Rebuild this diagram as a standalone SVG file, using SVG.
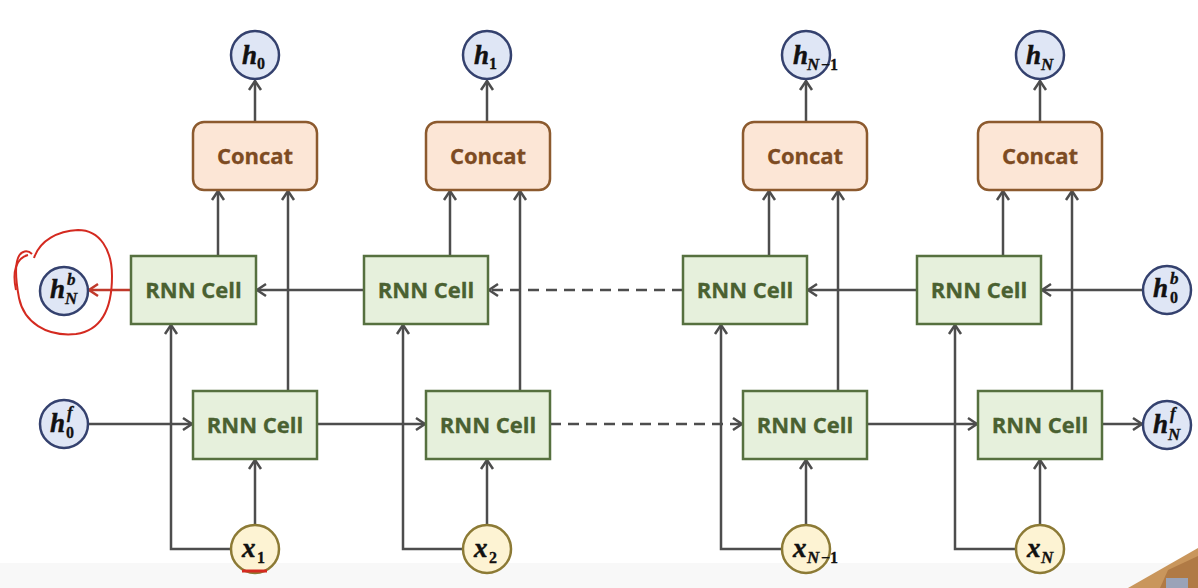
<svg xmlns="http://www.w3.org/2000/svg" width="1198" height="588" viewBox="0 0 1198 588">
<defs>
<marker id="arr" markerUnits="userSpaceOnUse" markerWidth="14" markerHeight="16" viewBox="-10 -8 12 16" refX="0" refY="0" orient="auto">
<path d="M-9,-6 L0,0 L-9,6" fill="none" stroke="#4d4d4d" stroke-width="2.5"/>
</marker>
<marker id="arrR" markerUnits="userSpaceOnUse" markerWidth="14" markerHeight="16" viewBox="-10 -8 12 16" refX="0" refY="0" orient="auto">
<path d="M-9,-6 L0,0 L-9,6" fill="none" stroke="#c0392b" stroke-width="2.5"/>
</marker>
</defs>
<style>
.cell{fill:#e6f0dc;stroke:#56703f;stroke-width:2.5}
.cat{fill:#fce6d6;stroke:#8c5a2e;stroke-width:2.5}
.ct{font-family:"Open Sans","Noto Sans",sans-serif;font-weight:bold;font-size:22px;fill:#4a6131;stroke:#4a6131;stroke-width:0.3;text-anchor:middle}
.catt{font-family:"Open Sans","Noto Sans",sans-serif;font-weight:bold;font-size:22px;fill:#7d4b22;stroke:#7d4b22;stroke-width:0.3;text-anchor:middle}
.hc{fill:#dfe6f5;stroke:#34416e;stroke-width:2.5}
.xc{fill:#fdf3d3;stroke:#8c7a35;stroke-width:2.5}
.m{font-family:"Liberation Serif","DejaVu Serif",serif;font-weight:bold;font-style:italic;font-size:27px;fill:#111;stroke:#111;stroke-width:0.5}
.s{font-family:"Liberation Serif","DejaVu Serif",serif;font-weight:bold;font-size:16px;fill:#111;stroke:#111;stroke-width:0.3}
.si{font-family:"Liberation Serif","DejaVu Serif",serif;font-weight:bold;font-style:italic;font-size:17px;fill:#111;stroke:#111;stroke-width:0.3}
.ln{fill:none;stroke:#4d4d4d;stroke-width:2.5}
.a{marker-end:url(#arr)}
.d{stroke-dasharray:11 7}
</style>
<rect x="0" y="0" width="1198" height="588" fill="#ffffff"/>
<rect x="0" y="563" width="1198" height="25" fill="#f8f8f8"/>
<polygon points="1128,588 1198,548 1198,588" fill="#c9965c"/>
<polygon points="1160,588 1168,570 1198,556 1198,588" fill="#b07a45"/>
<rect x="1166" y="578" width="22" height="10" fill="#9aa3b8"/>

<g id="connectors">
<line class="ln a" x1="255" y1="122" x2="255" y2="81"/>
<line class="ln a" x1="487" y1="122" x2="487" y2="81"/>
<line class="ln a" x1="806" y1="122" x2="806" y2="81"/>
<line class="ln a" x1="1040" y1="122" x2="1040" y2="81"/>

<line class="ln a" x1="218" y1="256" x2="218" y2="191"/>
<line class="ln a" x1="450" y1="256" x2="450" y2="191"/>
<line class="ln a" x1="769" y1="256" x2="769" y2="191"/>
<line class="ln a" x1="1003" y1="256" x2="1003" y2="191"/>

<line class="ln a" x1="288" y1="391" x2="288" y2="191"/>
<line class="ln a" x1="520" y1="391" x2="520" y2="191"/>
<line class="ln a" x1="838" y1="391" x2="838" y2="191"/>
<line class="ln a" x1="1072" y1="391" x2="1072" y2="191"/>

<line class="ln a" x1="255" y1="524" x2="255" y2="460"/>
<line class="ln a" x1="487" y1="524" x2="487" y2="460"/>
<line class="ln a" x1="806" y1="524" x2="806" y2="460"/>
<line class="ln a" x1="1040" y1="524" x2="1040" y2="460"/>

<polyline class="ln a" points="230,549 171,549 171,325"/>
<polyline class="ln a" points="462,549 403,549 403,325"/>
<polyline class="ln a" points="781,549 721,549 721,325"/>
<polyline class="ln a" points="1015,549 955,549 955,325"/>

<line class="ln a" x1="88" y1="424" x2="192" y2="424"/>
<line class="ln a" x1="317" y1="424" x2="425" y2="424"/>
<line class="ln a d" x1="550" y1="424" x2="742" y2="424"/>
<line class="ln a" x1="867" y1="424" x2="977" y2="424"/>
<line class="ln a" x1="1102" y1="424" x2="1142" y2="424"/>

<line class="ln a" x1="1143" y1="290" x2="1042" y2="290"/>
<line class="ln a" x1="917" y1="290" x2="808" y2="290"/>
<line class="ln a d" x1="683" y1="290" x2="489" y2="290"/>
<line class="ln a" x1="364" y1="290" x2="257" y2="290"/>
<line x1="131" y1="290" x2="89" y2="290" fill="none" stroke="#c0392b" stroke-width="2.5" marker-end="url(#arrR)"/>
</g>

<g id="concat1"><rect class="cat" x="193" y="122" width="124" height="68" rx="11"/><text class="catt" x="255" y="164">Concat</text></g>
<g id="concat2"><rect class="cat" x="426" y="122" width="124" height="68" rx="11"/><text class="catt" x="488" y="164">Concat</text></g>
<g id="concat3"><rect class="cat" x="743" y="122" width="124" height="68" rx="11"/><text class="catt" x="805" y="164">Concat</text></g>
<g id="concat4"><rect class="cat" x="978" y="122" width="124" height="68" rx="11"/><text class="catt" x="1040" y="164">Concat</text></g>

<g id="bcell1"><rect class="cell" x="131" y="256" width="125" height="68"/><text class="ct" x="193.5" y="298">RNN Cell</text></g>
<g id="bcell2"><rect class="cell" x="364" y="256" width="124" height="68"/><text class="ct" x="426" y="298">RNN Cell</text></g>
<g id="bcell3"><rect class="cell" x="683" y="256" width="124" height="68"/><text class="ct" x="745" y="298">RNN Cell</text></g>
<g id="bcell4"><rect class="cell" x="917" y="256" width="124" height="68"/><text class="ct" x="979" y="298">RNN Cell</text></g>

<g id="fcell1"><rect class="cell" x="193" y="391" width="124" height="68"/><text class="ct" x="255" y="433">RNN Cell</text></g>
<g id="fcell2"><rect class="cell" x="426" y="391" width="124" height="68"/><text class="ct" x="488" y="433">RNN Cell</text></g>
<g id="fcell3"><rect class="cell" x="743" y="391" width="124" height="68"/><text class="ct" x="805" y="433">RNN Cell</text></g>
<g id="fcell4"><rect class="cell" x="978" y="391" width="124" height="68"/><text class="ct" x="1040" y="433">RNN Cell</text></g>

<g id="h0"><circle class="hc" cx="255" cy="55" r="24"/><text class="m" x="242" y="64">h</text><text class="s" x="257" y="69">0</text></g>
<g id="h1"><circle class="hc" cx="487" cy="55" r="24"/><text class="m" x="474" y="64">h</text><text class="s" x="489" y="69">1</text></g>
<g id="hN1"><circle class="hc" cx="806" cy="55" r="24"/><text class="m" x="793" y="64">h</text><text class="si" x="807" y="70">N</text><text class="s" x="821" y="70">−1</text></g>
<g id="hN"><circle class="hc" cx="1040" cy="55" r="24"/><text class="m" x="1026" y="64">h</text><text class="si" x="1041" y="70">N</text></g>

<g id="hNb"><circle class="hc" cx="64" cy="291" r="24"/><text class="m" x="50" y="298">h</text><text class="si" x="67" y="285">b</text><text class="si" x="65" y="304">N</text></g>
<g id="h0f"><circle class="hc" cx="64" cy="424" r="24"/><text class="m" x="50" y="432">h</text><text class="si" x="67" y="418">f</text><text class="s" x="66" y="438">0</text></g>
<g id="h0b"><circle class="hc" cx="1167" cy="290" r="24"/><text class="m" x="1153" y="297">h</text><text class="si" x="1170" y="284">b</text><text class="s" x="1170" y="303">0</text></g>
<g id="hNf"><circle class="hc" cx="1167" cy="425" r="24"/><text class="m" x="1153" y="433">h</text><text class="si" x="1170" y="419">f</text><text class="si" x="1168" y="440">N</text></g>

<g id="x1"><circle class="xc" cx="255" cy="549" r="24"/><text class="m" x="242" y="557">x</text><text class="s" x="257" y="563">1</text></g>
<g id="x2"><circle class="xc" cx="487" cy="549" r="24"/><text class="m" x="474" y="557">x</text><text class="s" x="489" y="563">2</text></g>
<g id="xN1"><circle class="xc" cx="806" cy="549" r="24"/><text class="m" x="793" y="557">x</text><text class="si" x="807" y="563">N</text><text class="s" x="821" y="563">−1</text></g>
<g id="xN"><circle class="xc" cx="1040" cy="549" r="24"/><text class="m" x="1027" y="557">x</text><text class="si" x="1041" y="563">N</text></g>

<g id="annotation" fill="none" stroke="#d42a20" stroke-width="2">
<path d="M34,258 C40,240 58,231 78,230 C100,230 112,250 112,276 C112,306 104,330 76,334 C46,337 24,322 19,298 C16,282 15,266 18,258 C21,250 28,250 32,254"/>
<path d="M16,290 C12,272 16,258 28,255"/>
<line x1="242" y1="571" x2="267" y2="571" stroke-width="3"/>
</g>
</svg>
